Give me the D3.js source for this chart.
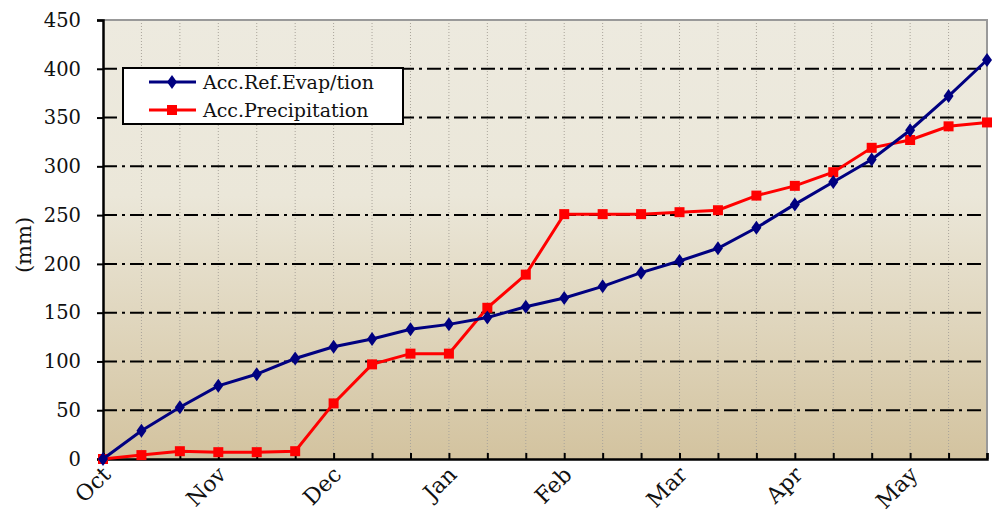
<!DOCTYPE html>
<html>
<head>
<meta charset="utf-8">
<title>Accumulated evapotranspiration and precipitation</title>
<script src="https://d3js.org/d3.v7.min.js"></script>
<style>
  body { margin: 0; background: #fff; }
  svg { display: block; }
  text { font-family: "DejaVu Serif", "Liberation Serif", serif; }
</style>
</head>
<body>
<svg width="999" height="513"></svg>
<script>
    // ten-day periods from 1 Oct to end of May
    const periods = d3.range(24);
    const monthLabels = ["Oct", "Nov", "Dec", "Jan", "Feb", "Mar", "Apr", "May"];
    const monthIndex = [0, 3, 6, 9, 12, 15, 18, 21];
    const yTicks = [0, 50, 100, 150, 200, 250, 300, 350, 400, 450];

    const evapValues = [0, 29, 53, 75, 87, 103, 115, 123, 133, 138, 145, 156,
                        165, 177, 191, 203, 216, 237, 261, 284, 307, 337, 372, 409];
    const precipValues = [0, 4, 8, 7, 7, 8, 57, 97, 108, 108, 155, 189,
                          251, 251, 251, 253, 255, 270, 280, 294, 319, 327, 341, 345];

    const seriesNames = ["Acc.Ref.Evap/tion", "Acc.Precipitation"];

    const svg = d3.select("svg");
    const margin = { left: 103, right: 12, top: 20, bottom: 54 };
    const width = 999 - margin.left - margin.right;
    const height = 513 - margin.top - margin.bottom;

    const x = d3.scaleLinear().domain([0, 23]).range([0, width]);
    const y = d3.scaleLinear().domain([0, 450]).range([height, 0]);

    const defs = svg.append("defs");
    const grad = defs.append("linearGradient")
        .attr("id", "bg")
        .attr("x1", 0).attr("y1", 0).attr("x2", 0).attr("y2", 1);
    grad.append("stop").attr("offset", "0%").attr("stop-color", "#edeadf");
    grad.append("stop").attr("offset", "40%").attr("stop-color", "#ebe7d9");
    grad.append("stop").attr("offset", "100%").attr("stop-color", "#d3c39f");

    const g = svg.append("g").attr("transform", `translate(${margin.left},${margin.top})`);

    g.append("rect")
        .attr("width", width).attr("height", height)
        .attr("fill", "url(#bg)");

    // vertical dotted grid
    g.append("g").selectAll("line")
        .data(periods.slice(1, -1))
        .join("line")
        .attr("x1", d => x(d)).attr("x2", d => x(d))
        .attr("y1", 0).attr("y2", height)
        .attr("stroke", "#a9a49a")
        .attr("stroke-width", 1)
        .attr("stroke-dasharray", "1,2");

    // horizontal dash-dot grid
    g.append("g").selectAll("line")
        .data(yTicks.slice(1, -1))
        .join("line")
        .attr("x1", 0).attr("x2", width)
        .attr("y1", d => y(d)).attr("y2", d => y(d))
        .attr("stroke", "#000")
        .attr("stroke-width", 2)
        .attr("stroke-dasharray", "14,5,3,5");

    // top and right border
    g.append("path")
        .attr("d", `M0,0H${width}V${height}`)
        .attr("fill", "none")
        .attr("stroke", "#999")
        .attr("stroke-width", 2);

    // y axis
    const yAxis = g.append("g")
        .call(d3.axisLeft(y).tickValues(yTicks).tickSize(6).tickPadding(16));
    yAxis.attr("font-family", null);
    yAxis.select(".domain").attr("stroke-width", 2.5);
    yAxis.selectAll(".tick line").attr("stroke-width", 2);
    yAxis.selectAll("text")
        .attr("font-size", 19.5)
        .attr("fill", "#111");

    // x axis with inward ticks at each period
    const xAxis = g.append("g")
        .attr("transform", `translate(0,${height})`)
        .call(d3.axisBottom(x).tickValues(periods).tickSize(-6).tickFormat(""));
    xAxis.select(".domain").attr("stroke-width", 2.5);
    xAxis.selectAll(".tick line").attr("stroke-width", 2);

    g.append("g").selectAll("text")
        .data(monthIndex)
        .join("text")
        .attr("transform", (d) => `translate(${x(d) + 9},${height + 17}) rotate(-45)`)
        .attr("text-anchor", "end")
        .attr("font-size", 22)
        .attr("fill", "#111")
        .text((d, i) => monthLabels[i]);

    svg.append("text")
        .attr("transform", "translate(31,245) rotate(-90)")
        .attr("text-anchor", "middle")
        .attr("font-size", 21)
        .attr("fill", "#111")
        .text("(mm)");

    const line = d3.line().x((d, i) => x(i)).y(d => y(d));

    const diamond = "M0,-7L5,0L0,7L-5,0Z";

    // precipitation
    g.append("path")
        .datum(precipValues)
        .attr("d", line)
        .attr("fill", "none")
        .attr("stroke", "#ff0000")
        .attr("stroke-width", 3);
    g.append("g").selectAll("rect")
        .data(precipValues)
        .join("rect")
        .attr("x", (d, i) => x(i) - 5)
        .attr("y", d => y(d) - 5)
        .attr("width", 10).attr("height", 10)
        .attr("fill", "#ff0000");

    // evapotranspiration
    g.append("path")
        .datum(evapValues)
        .attr("d", line)
        .attr("fill", "none")
        .attr("stroke", "#000080")
        .attr("stroke-width", 3);
    g.append("g").selectAll("path")
        .data(evapValues)
        .join("path")
        .attr("transform", (d, i) => `translate(${x(i)},${y(d)})`)
        .attr("d", diamond)
        .attr("fill", "#000080");

    // legend
    const legend = svg.append("g").attr("transform", "translate(123,68)");
    legend.append("rect")
        .attr("width", 280).attr("height", 56)
        .attr("fill", "#fff")
        .attr("stroke", "#000")
        .attr("stroke-width", 2);
    const colors = ["#000080", "#ff0000"];
    seriesNames.forEach((name, i) => {
        const row = legend.append("g").attr("transform", `translate(0,${14 + i * 28})`);
        row.append("line")
            .attr("x1", 26).attr("x2", 73)
            .attr("stroke", colors[i])
            .attr("stroke-width", 3);
        if (i === 0) {
            row.append("path").attr("transform", "translate(49,0)").attr("d", diamond).attr("fill", colors[i]);
        } else {
            row.append("rect").attr("x", 44).attr("y", -5).attr("width", 10).attr("height", 10).attr("fill", colors[i]);
        }
        row.append("text")
            .attr("x", 80)
            .attr("dy", "0.35em")
            .attr("font-size", 19)
            .attr("fill", "#111")
            .text(name);
    });
</script>
</body>
</html>
